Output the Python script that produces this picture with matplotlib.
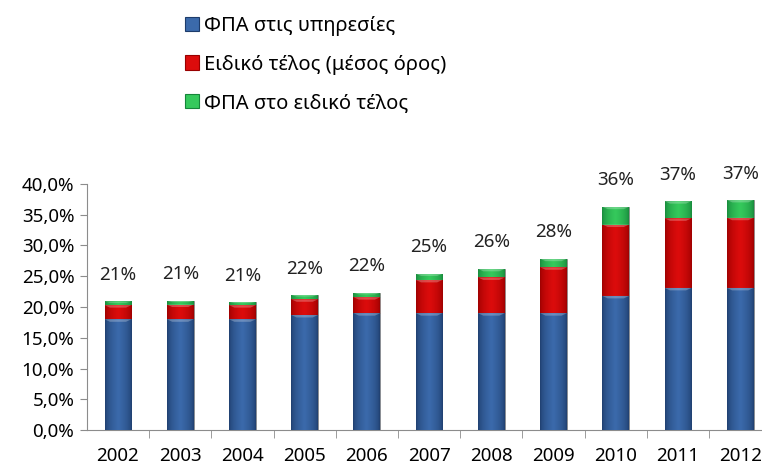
import numpy as np
import matplotlib.pyplot as plt
from matplotlib.colors import LinearSegmentedColormap
from matplotlib.patches import Patch
from matplotlib.ticker import FuncFormatter, MultipleLocator, FixedLocator

plt.rcParams['font.family'] = ['Noto Sans', 'DejaVu Sans']

years = ["2002", "2003", "2004", "2005", "2006", "2007",
         "2008", "2009", "2010", "2011", "2012"]
# values in percent
vat_services = [18.0, 18.0, 18.0, 18.7, 19.0, 19.0, 19.0, 19.0, 21.8, 23.1, 23.1]
special_fee = [2.3, 2.4, 2.3, 2.55, 2.6, 5.4, 5.8, 7.45, 11.6, 11.3, 11.4]
vat_on_fee = [0.6, 0.6, 0.5, 0.7, 0.7, 1.0, 1.4, 1.4, 2.9, 2.8, 2.9]
series_names = ["ΦΠΑ στις υπηρεσίες", "Ειδικό τέλος (μέσος όρος)",
                "ΦΠΑ στο ειδικό τέλος"]

# (dark edge, light centre) per series
shades = [("#1d3c6b", "#3b6aab"), ("#980000", "#dc0c0c"), ("#16853a", "#35c95c")]

fig = plt.figure(figsize=(7.62, 4.68), dpi=100)
ax = fig.add_axes([0.114, 0.081, 0.886, 0.526])

x = np.arange(len(years))
width = 0.43
bottom = np.zeros(len(years))
grad = np.concatenate([np.linspace(0, 1, 32), np.linspace(1, 0, 32)])
grad = np.sqrt(grad).reshape(1, -1)

for vals, (dark, light) in zip([vat_services, special_fee, vat_on_fee], shades):
    vals = np.array(vals) / 100
    bars = ax.bar(x, vals, width, bottom=bottom, color=light, edgecolor="#8a8a8a",
                  lw=0.6, zorder=2)
    cmap = LinearSegmentedColormap.from_list("g", [dark, light])
    for b in bars:
        x0, y0 = b.get_x(), b.get_y()
        w, h = b.get_width(), b.get_height()
        im = ax.imshow(grad, cmap=cmap, aspect="auto", extent=[x0, x0 + w, y0, y0 + h],
                       zorder=3, interpolation="bicubic")
        im.set_clip_path(b)
        # bevel highlight at the top of each segment
        bh = min(h * 0.35, 0.004)
        ax.fill([x0, x0 + w, x0 + w * 0.8, x0 + w * 0.2],
                [y0 + h, y0 + h, y0 + h - bh, y0 + h - bh],
                color="white", alpha=0.25, lw=0, zorder=4)
    bottom = bottom + vals

totals = bottom
for xi, t in zip(x, totals):
    ax.annotate(f"{t * 100:.0f}%", (xi, t), xytext=(0, 19), textcoords="offset points",
                ha="center", va="center", fontsize=13.5, color="#222222")

ax.set_xlim(-0.5, 10.35)
ax.set_ylim(0, 0.40)
ax.yaxis.set_major_locator(MultipleLocator(0.05))
ax.yaxis.set_major_formatter(FuncFormatter(lambda v, p: f"{v * 100:.1f}%".replace(".", ",")))
ax.set_xticks(x)
ax.set_xticklabels(years)
ax.xaxis.set_minor_locator(FixedLocator(x[:-1] + 0.5))
ax.tick_params(axis="x", which="major", length=0, pad=12, labelsize=13.5)
ax.tick_params(axis="x", which="minor", length=6, color="#8c8c8c", direction="out")
ax.tick_params(axis="y", length=5, color="#8c8c8c", labelsize=13.5, pad=4)
for s in ["top", "right"]:
    ax.spines[s].set_visible(False)
for s in ["left", "bottom"]:
    ax.spines[s].set_color("#8c8c8c")

handles = [Patch(facecolor=light, edgecolor=dark, lw=0.8) for dark, light in shades]
fig.legend(handles, series_names, loc="upper left", bbox_to_anchor=(0.243, 0.965),
           frameon=False, fontsize=14.5, handlelength=0.7, handleheight=0.7,
           handletextpad=0.25, labelspacing=0.9, borderaxespad=0, borderpad=0)

fig.savefig("out.png", dpi=100)
